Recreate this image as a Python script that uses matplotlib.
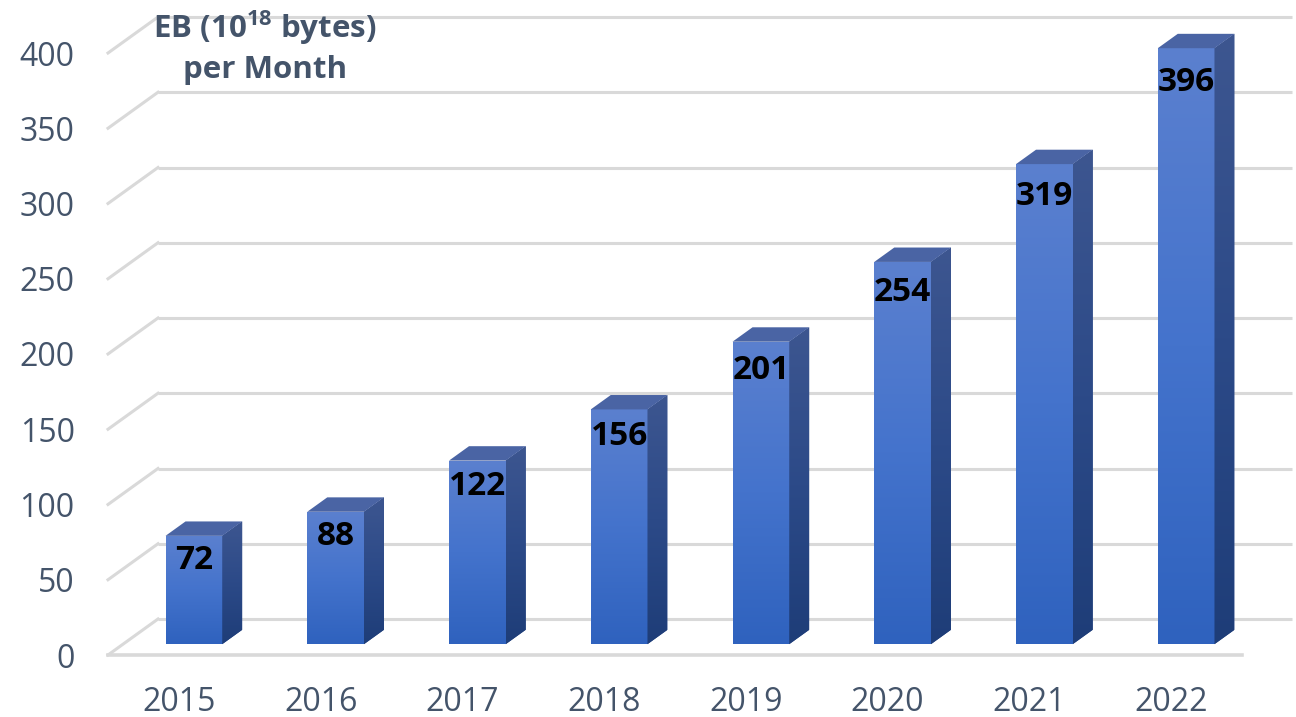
import numpy as np
import matplotlib
matplotlib.use("Agg")
import matplotlib.pyplot as plt
from matplotlib.patches import Polygon
from matplotlib.colors import LinearSegmentedColormap

# Monthly data volume, exabytes
years = ["2015", "2016", "2017", "2018", "2019", "2020", "2021", "2022"]
volumes = [72, 88, 122, 156, 201, 254, 319, 396]
y_ticks = [0, 50, 100, 150, 200, 250, 300, 350, 400]

plt.rcParams["font.family"] = ["Open Sans", "DejaVu Sans"]
plt.rcParams["mathtext.fontset"] = "custom"
plt.rcParams["mathtext.rm"] = "Open Sans"
plt.rcParams["mathtext.bf"] = "Open Sans:bold"

TEXT = "#44546A"
GRID = "#D9D9D9"

W, H = 1296, 717
fig = plt.figure(figsize=(W / 100, H / 100), dpi=100)
fig.patch.set_facecolor("white")

# oblique projection: depth offsets in data units
DX = 50 / 141.75
DY = 36 / 1.505

left_px, base_px = 108, 655
ax = fig.add_axes([left_px / W, (H - base_px) / H, (W - left_px) / W, base_px / H])
ax.set_facecolor("none")
for s in ax.spines.values():
    s.set_visible(False)

n = len(years)
xlim = (0, (W - left_px) / 141.75)
ylim = (0, base_px / 1.505)

# back wall gridlines and left wall diagonals
for v in y_ticks:
    ax.plot([DX, n + DX], [v + DY, v + DY], color=GRID, lw=2.2, zorder=1, clip_on=False,
            solid_capstyle="butt")
    ax.plot([0, DX], [v, v + DY], color=GRID, lw=2.2, zorder=1, clip_on=False)
# front floor edge
ax.plot([0, n], [0, 0], color=GRID, lw=2.6, zorder=1, clip_on=False)

front_cmap = LinearSegmentedColormap.from_list("front", ["#2F62BE", "#4473CC", "#5B80CF"])
side_cmap = LinearSegmentedColormap.from_list("side", ["#1E3D78", "#2C4A88", "#3D5690"])
top_color = "#4A64A4"

d0, d1 = 0.3, 0.7
bw = d1 - d0
centers = np.arange(n) + 0.5 + d0 * DX
bars = ax.bar(centers, volumes, width=bw, bottom=d0 * DY, color="#3C6CC6",
              edgecolor="none", zorder=3)

grad = np.linspace(0, 1, 256).reshape(-1, 1)
for i, (bar, v) in enumerate(zip(bars, volumes)):
    x0 = bar.get_x()
    x1 = x0 + bar.get_width()
    yb = bar.get_y()
    yt = yb + bar.get_height()
    im = ax.imshow(grad, extent=[x0, x1, yb, yt], origin="lower", aspect="auto",
                   cmap=front_cmap, zorder=3.1, interpolation="bilinear")
    im.set_clip_path(bar)

    side = Polygon([(x1, yb), (x1 + bw * DX, yb + bw * DY), (x1 + bw * DX, yt + bw * DY),
                    (x1, yt)], closed=True, facecolor="#2C4A88", edgecolor="none", zorder=3)
    ax.add_patch(side)
    ims = ax.imshow(grad, extent=[x1, x1 + bw * DX, yb, yt + bw * DY], origin="lower",
                    aspect="auto", cmap=side_cmap, zorder=3.1, interpolation="bilinear")
    ims.set_clip_path(side)

    top = Polygon([(x0, yt), (x1, yt), (x1 + bw * DX, yt + bw * DY), (x0 + bw * DX, yt + bw * DY)],
                  closed=True, facecolor=top_color, edgecolor="none", zorder=3.2)
    ax.add_patch(top)

    ax.text((x0 + x1) / 2, yt - 15 - 0.02 * v, str(v), ha="center", va="center",
            fontsize=24, fontweight="bold", color="black", zorder=5)

ax.set_xlim(*xlim)
ax.set_ylim(*ylim)

ax.set_yticks(y_ticks)
ax.set_yticklabels([str(t) for t in y_ticks])
ax.set_xticks(np.arange(n) + 0.5)
ax.set_xticklabels(years)
ax.tick_params(axis="y", length=0, pad=24, labelsize=23, labelcolor=TEXT)
ax.tick_params(axis="x", length=0, pad=22, labelsize=23, labelcolor=TEXT)

# axis title in the top-left corner
fig.text(265 / W, 1 - 28 / H, r"EB (10$^{\mathbf{18}}$ bytes)", ha="center", va="center",
         fontsize=22.5, fontweight="bold", color=TEXT)
fig.text(265 / W, 1 - 70 / H, "per Month", ha="center", va="center",
         fontsize=22.5, fontweight="bold", color=TEXT)

fig.savefig("out.png", dpi=100)
